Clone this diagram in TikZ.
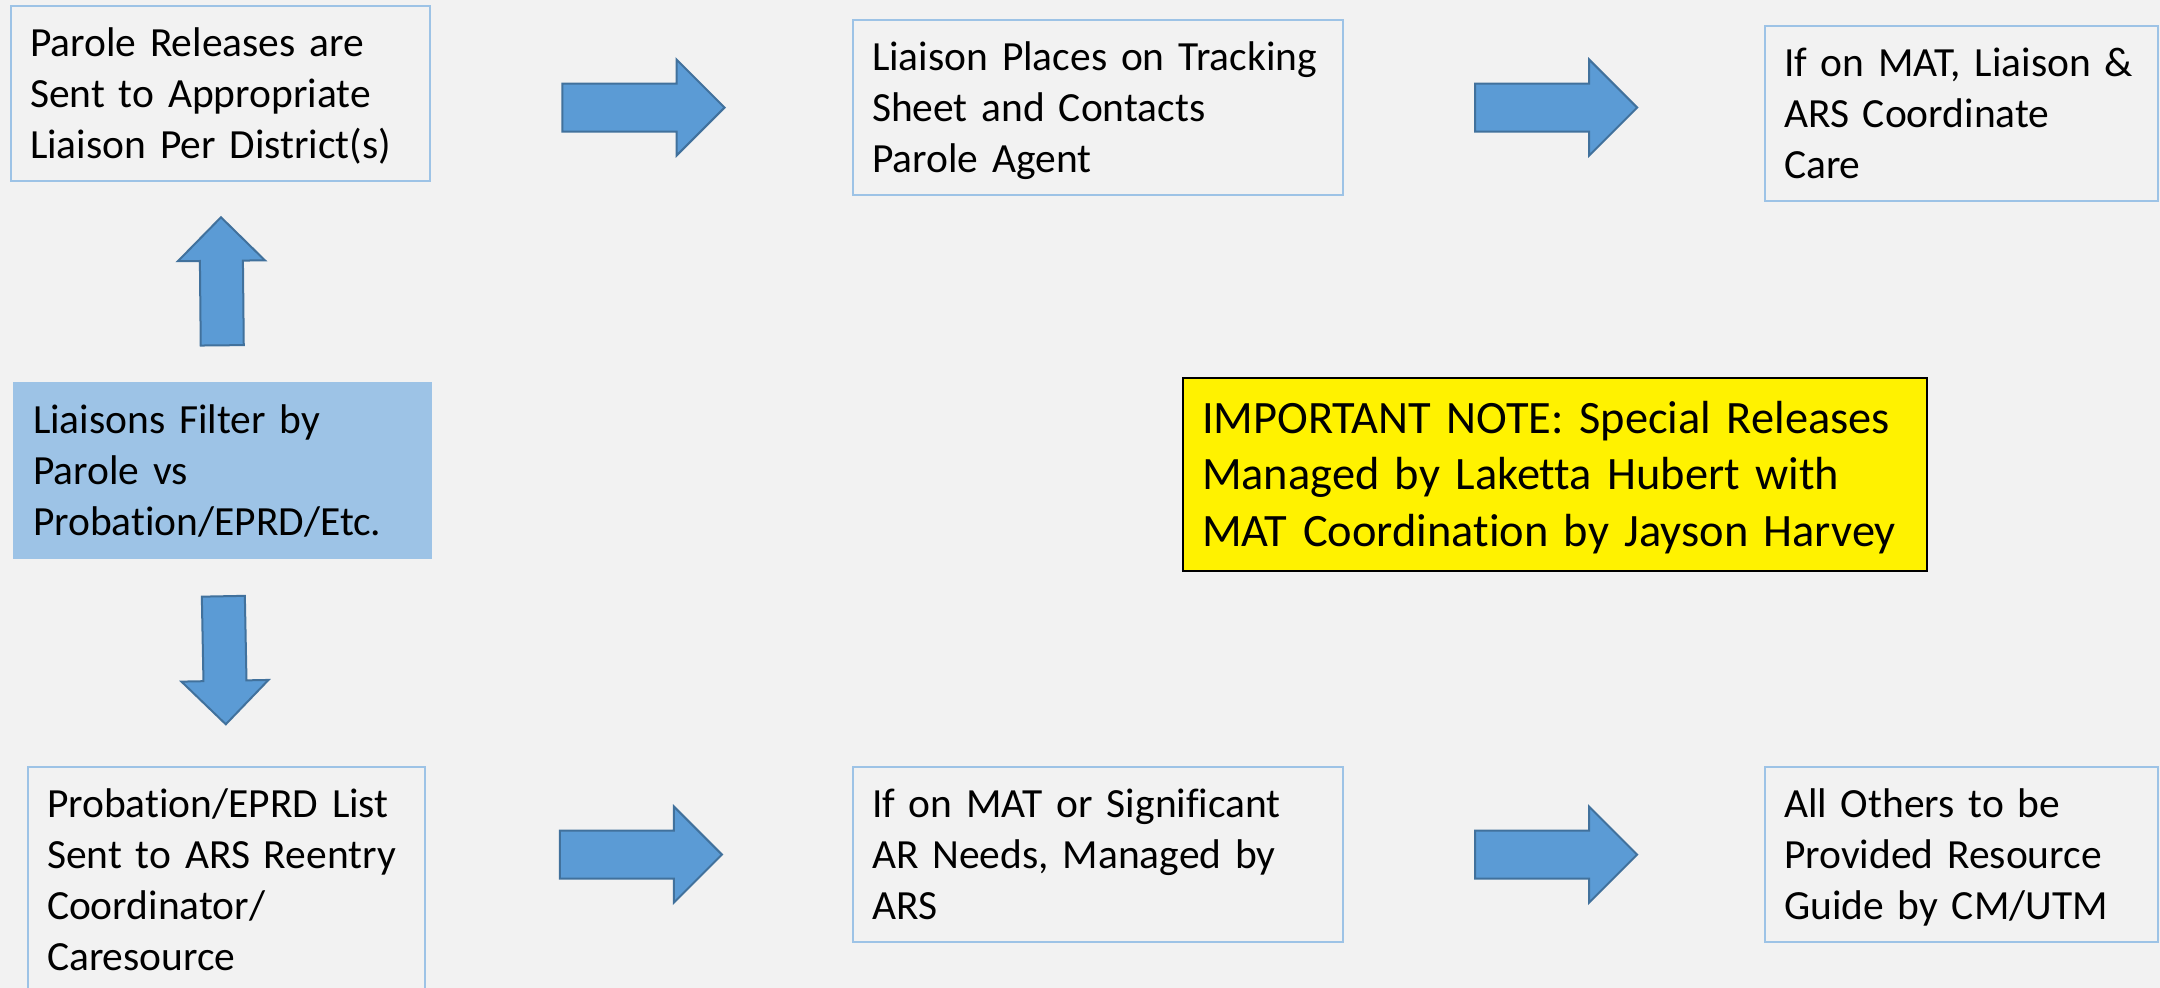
\documentclass[tikz,border=0pt]{standalone}
\usepackage{fontspec}
\setmainfont{Carlito}[Ligatures=NoCommon]
\usepackage{tikz}
\usetikzlibrary{calc}
\usetikzlibrary{shapes.arrows}
\definecolor{boxline}{HTML}{9DC3E6}
\definecolor{arrowfill}{HTML}{5B9BD5}
\definecolor{arrowline}{HTML}{41719C}
\definecolor{backgr}{HTML}{F2F2F2}
\colorlet{notefill}{yellow}
\hyphenpenalty=10000
\exhyphenpenalty=10000

\begin{document}
\begin{tikzpicture}[
x=0.01cm, y=-0.01cm,
MyBoxes/.style={draw=boxline,line width=0.02cm,anchor=north west,align=left,
  inner xsep=0.19cm,inner ysep=0.2cm,text height=0.3cm,text depth=1.05cm,
  font=\fontsize{11.8pt}{14.5pt}\selectfont},
FilterBox/.style={MyBoxes,fill=boxline},
NoteBox/.style={MyBoxes,draw=black,fill=notefill,text height=0.35cm,text depth=1.18cm,
  font=\fontsize{13.2pt}{16.1pt}\selectfont},
MyArrows/.style={single arrow,single arrow head extend=0.24cm,single arrow tip angle=90,
  fill=arrowfill,draw=arrowline,line width=0.02cm,inner xsep=0pt,inner ysep=0.23cm,
  minimum height=1.62cm,sloped,allow upside down,pos=0.476},
UpDownArrows/.style={MyArrows,single arrow head extend=0.22cm,inner ysep=0.205cm,minimum height=1.28cm}
]
\clip (0,0) rectangle (2160,988);
\fill[backgr] (0,0) rectangle (2160,988);

% left column
\node[MyBoxes, text width=3.81cm] (A) at (10,5) {Parole Releases are\\Sent to Appropriate\\Liaison Per District(s)};
\node[FilterBox, text width=3.79cm] (B) at (13,382) {Liaisons Filter by\\Parole vs\\Probation/EPRD/Etc.};
\node[MyBoxes, text width=3.59cm, text depth=1.56cm] (C) at (27,766) {Probation/EPRD List\\Sent to ARS Reentry\\Coordinator/\\Caresource};

% parole row
\node[MyBoxes, text width=4.52cm] (D) at (852,19) {Liaison Places on Tracking\\Sheet and Contacts\\Parole Agent};
\node[MyBoxes, text width=3.55cm] (E) at (1764,25) {If on MAT, Liaison \&\\ARS Coordinate\\Care};

% probation row
\node[MyBoxes, text width=4.52cm] (F) at (852,766) {If on MAT or Significant\\AR Needs, Managed by\\ARS};
\node[MyBoxes, text width=3.55cm] (G) at (1764,766) {All Others to be\\Provided Resource\\Guide by CM/UTM};

\node[NoteBox, text width=7.06cm] (N) at (1182,377) {IMPORTANT NOTE: Special Releases\\Managed by Laketta Hubert with\\MAT Coordination by Jayson Harvey};

\path (B.north) -- node[UpDownArrows, pos=0.45] (U) {} (A.south);
\path (B.south) -- node[UpDownArrows, pos=0.437] (W) {} (C.north);

\path (D.west -| A.east) -- node[MyArrows] (R1) {} (D.west);
\path (D.east) -- node[MyArrows] (R2) {} (D.east -| E.west);
\path (F.west -| C.east) -- node[MyArrows] (R3) {} (F.west);
\path (F.east) -- node[MyArrows] (R4) {} (G.west);

%\draw[red] (A.south) -- (B.north);
\end{tikzpicture}
\end{document}
